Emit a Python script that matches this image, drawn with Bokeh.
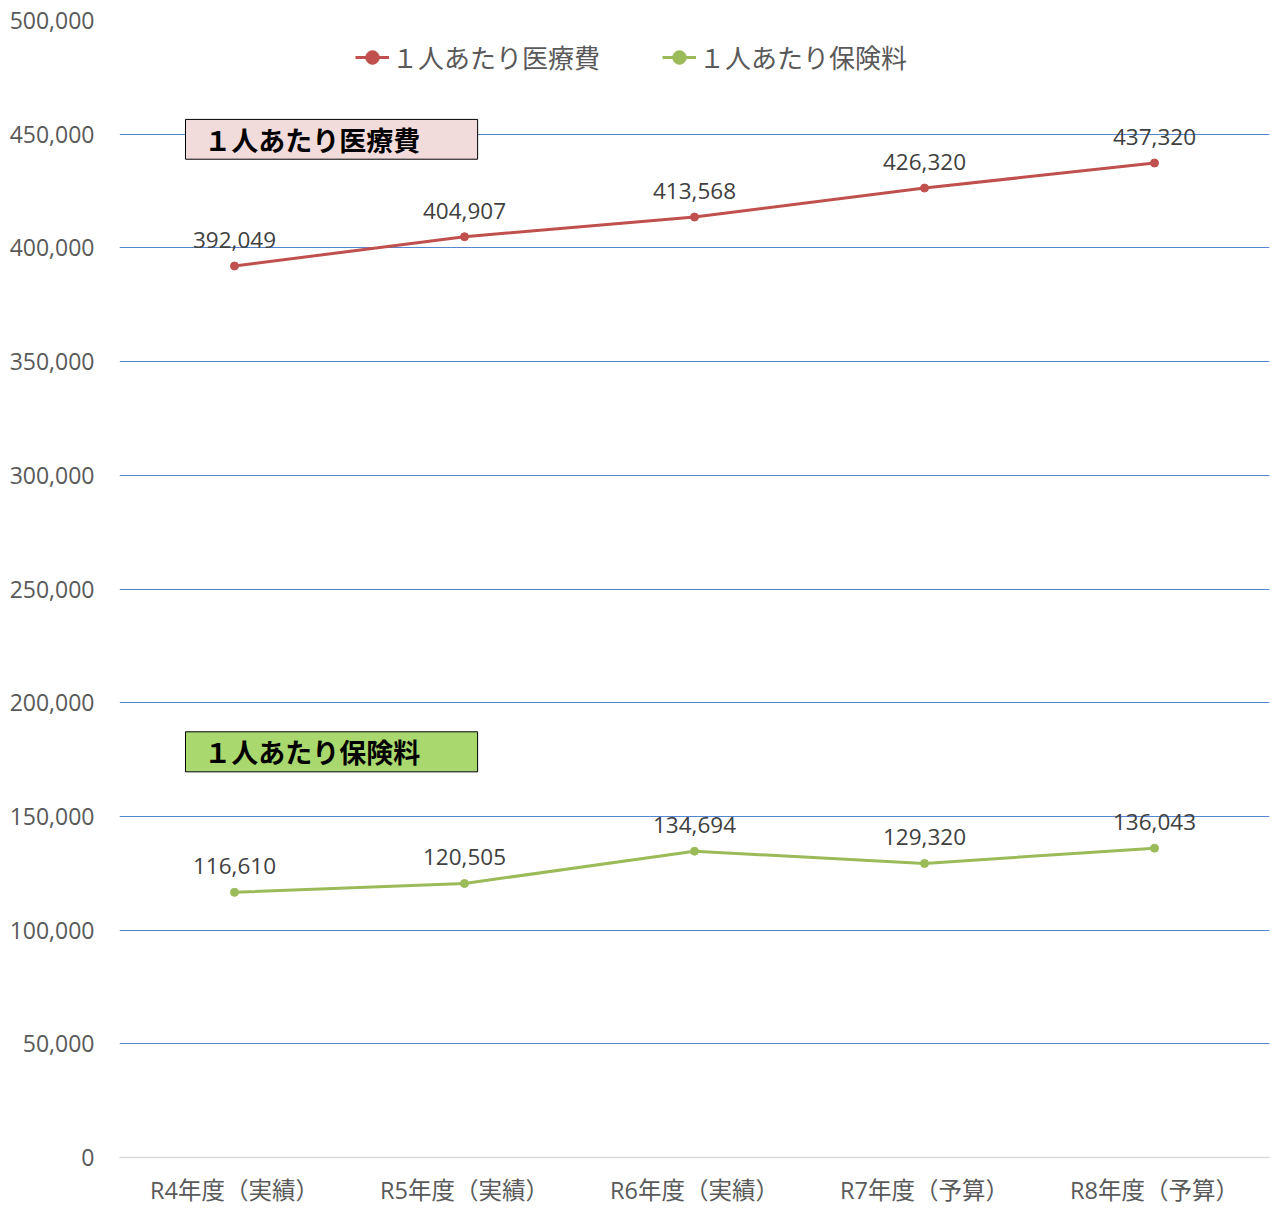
from bokeh.plotting import figure
from bokeh.models import ColumnDataSource, FixedTicker, NumeralTickFormatter, Legend, LegendItem, Label, BoxAnnotation
from bokeh.core.properties import value
from bokeh.embed import file_html
from bokeh.resources import INLINE

categories = ["R4年度（実績）", "R5年度（実績）", "R6年度（実績）", "R7年度（予算）", "R8年度（予算）"]
medical = [392049, 404907, 413568, 426320, 437320]
premium = [116610, 120505, 134694, 129320, 136043]
series_names = ["１人あたり医療費", "１人あたり保険料"]
y_ticks = list(range(0, 500001, 50000))

RED = "#C0504D"
GREEN = "#9BBB59"
JP = "Noto Sans CJK JP"
NUM = "Open Sans"

xs = list(range(len(categories)))

p = figure(width=1270, height=1208, x_range=(-0.5, len(categories) - 0.5), y_range=(0, 500000),
           output_backend="svg", toolbar_location=None,
           min_border_left=119, min_border_right=1, min_border_top=20, min_border_bottom=50)
p.outline_line_color = None
p.background_fill_color = "white"

p.xgrid.grid_line_color = None
p.ygrid.grid_line_color = "#5585CC"
p.ygrid.grid_line_width = 1
p.yaxis.ticker = FixedTicker(ticks=y_ticks)
p.yaxis.formatter = NumeralTickFormatter(format="0,0")
p.yaxis.axis_line_color = None
p.yaxis.major_tick_line_color = None
p.yaxis.minor_tick_line_color = None
p.yaxis.major_label_text_font = NUM
p.yaxis.major_label_text_font_size = "23px"
p.yaxis.major_label_text_color = "#595959"
p.yaxis.major_label_standoff = 19

p.xaxis.ticker = FixedTicker(ticks=xs)
p.xaxis.major_label_overrides = {i: c for i, c in enumerate(categories)}
p.xaxis.axis_line_color = "#D9D9D9"
p.xaxis.axis_line_width = 1.5
p.xaxis.major_tick_line_color = None
p.xaxis.minor_tick_line_color = None
p.xaxis.major_label_text_font = "'Open Sans', 'Noto Sans CJK JP'"
p.xaxis.major_label_text_font_size = "23.5px"
p.xaxis.major_label_text_color = "#595959"
p.xaxis.major_label_standoff = 10

items = []
for vals, color, name in [(medical, RED, series_names[0]), (premium, GREEN, series_names[1])]:
    src = ColumnDataSource(dict(x=xs, y=vals, lab=[f"{v:,}" for v in vals]))
    ln = p.line("x", "y", source=src, line_color=color, line_width=3)
    sc = p.scatter("x", "y", source=src, size=8, fill_color=color, line_color=color)
    p.text("x", "y", text="lab", source=src, text_align="center", text_baseline="middle",
           y_offset=-26, text_font=value(NUM), text_font_size="22.5px", text_color="#404040")
    items.append(LegendItem(label=name, renderers=[ln, sc]))

legend = Legend(items=items, orientation="horizontal", location=(236, 1082),
                label_text_font=JP, label_text_font_size="26px", label_text_color="#595959",
                glyph_width=34, glyph_height=34, label_height=34, spacing=62, padding=0, margin=0,
                border_line_color=None, background_fill_alpha=0, label_standoff=3)
p.add_layout(legend, "center")

# annotation boxes
for (y0, y1, fill, txt, ty) in [(439000, 456500, "#F2DCDB", series_names[0], 447700),
                               (169600, 187200, "#A9D86E", series_names[1], 178400)]:
    p.add_layout(BoxAnnotation(left=-0.213, right=1.057, bottom=y0, top=y1,
                               fill_color=fill, fill_alpha=1, line_color="black", line_alpha=1,
                               line_width=1, level="overlay"))
    p.add_layout(Label(x=-0.132, y=ty, text=txt, text_font=JP, text_font_size="27px",
                       text_font_style="bold", text_color="black", text_baseline="middle", level="overlay"))

open("out.html", "w").write(file_html(p, INLINE))
